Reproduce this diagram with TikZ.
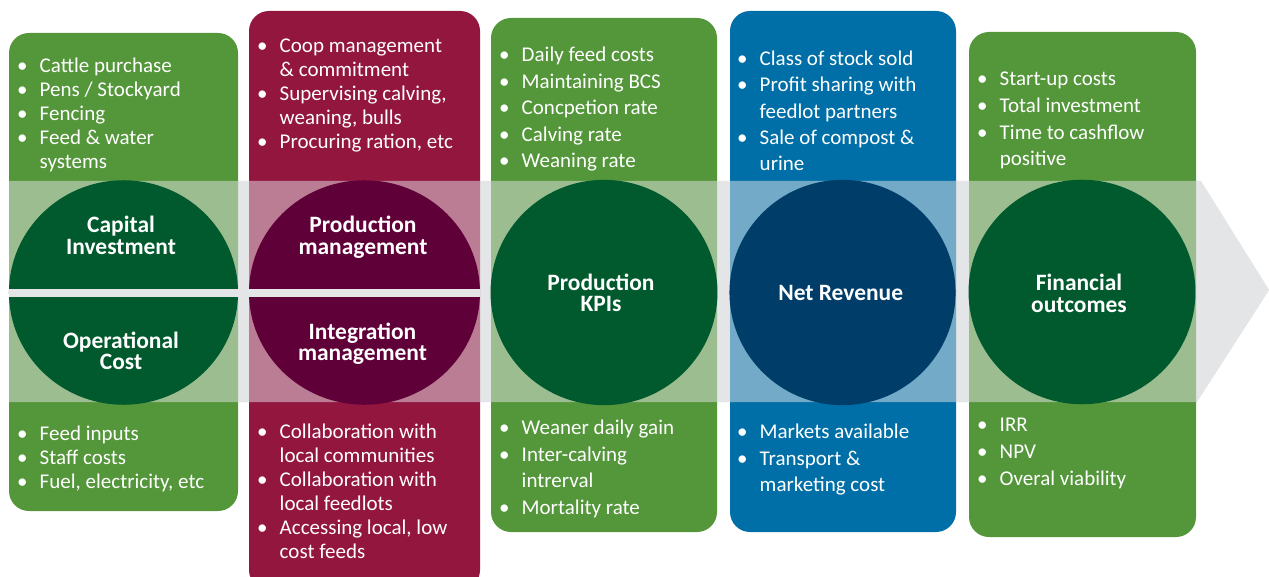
\documentclass[tikz,border=0pt]{standalone}
\usepackage{fontspec}
\setmainfont{Carlito}
\definecolor{boxgreen}{RGB}{84,150,58}
\definecolor{boxred}{RGB}{147,22,63}
\definecolor{boxblue}{RGB}{0,111,167}
\definecolor{dgreen}{RGB}{0,90,46}
\definecolor{dred}{RGB}{95,0,57}
\definecolor{dblue}{RGB}{0,61,105}
\definecolor{bandgray}{RGB}{228,229,231}
\newlength\bgap \setlength\bgap{13.1pt}
\newcommand\bl[1]{\makebox[0pt][c]{\textbullet}\hspace*{\bgap}#1\par}
\newcommand\cl[1]{\hspace*{\bgap}#1\par}
\newcommand\blst[2]{\vtop{\hsize=175pt\parindent=0pt\parskip=0pt\rightskip=0pt plus 1fil\fontsize{15.75pt}{#1}\selectfont #2}}
\newcommand\ttl[1]{\vtop{\hsize=150pt\parindent=0pt\parskip=0pt\centering\fontsize{17.6pt}{16.1pt}\bfseries\selectfont #1\par}}
\tikzset{
  lst/.style={inner sep=0pt, anchor=base west, text=white},
  ttlnode/.style={inner sep=0pt, anchor=base, text=white},
  pillar/.style={rounded corners=15pt},
}
\begin{document}
\begin{tikzpicture}[x=0.75pt,y=-0.75pt]
\useasboundingbox (0,0) rectangle (1269,577);
% band (opaque under layer)
\fill[bandgray] (9,181) -- (1201,181) -- (1269,290) -- (1197,402) -- (9,402) -- cycle;
% pillars
\fill[boxgreen,pillar] (9,33) rectangle (238,511);
\fill[boxred,pillar] (249,11) rectangle (480,590);
\fill[boxgreen,pillar] (491,18) rectangle (717,532);
\fill[boxblue,pillar] (730,11) rectangle (956,532);
\fill[boxgreen,pillar] (969,32) rectangle (1196,537);
% translucent band over pillars
\fill[bandgray,fill opacity=0.5] (9,181) -- (1201,181) -- (1269,290) -- (1197,402) -- (9,402) -- cycle;
% circles
\fill[dgreen] (123.5,292.5) ellipse [x radius=85.9pt, y radius=84.2pt];
\fill[dred] (364.5,292.5) ellipse [x radius=86.6pt, y radius=84.2pt];
\fill[dgreen] (604,292.5) ellipse [x radius=85.1pt, y radius=84.5pt];
\fill[dblue] (842.5,292.5) ellipse [x radius=84.8pt, y radius=84.5pt];
\fill[dgreen] (1082,292) ellipse [x radius=85.1pt, y radius=84.2pt];
% gray separating strip
\fill[bandgray] (9,289) rectangle (480,296.5);
% titles
\node[ttlnode] (t1) at (121,233) {\ttl{Capital\\Investment}};
\node[ttlnode] (t2) at (121,348.5) {\ttl{Operational\\Cost}};
\node[ttlnode] (t3) at (363,233) {\ttl{Production\\management}};
\node[ttlnode] (t4) at (362.5,339.5) {\ttl{Integration\\management}};
\node[ttlnode] (t5) at (601,290.5) {\ttl{Production\\KPIs}};
\node[ttlnode] (t6) at (840.7,300.7) {\ttl{Net Revenue}};
\node[ttlnode] (t7) at (1079,290.7) {\ttl{Financial\\outcomes}};
% lists
\node[lst] (l1a) at (22,72.7) {\blst{18pt}{\bl{Cattle purchase}\bl{Pens / Stockyard}\bl{Fencing}\bl{Feed \& water}\cl{systems}}};
\node[lst] (l1b) at (22,440) {\blst{18pt}{\bl{Feed inputs}\bl{Staff costs}\bl{Fuel, electricity, etc}}};
\node[lst] (l2a) at (262,52.3) {\blst{18pt}{\bl{Coop management}\cl{\& commitment}\bl{Supervising calving,}\cl{weaning, bulls}\bl{Procuring ration, etc}}};
\node[lst] (l2b) at (262,438.7) {\blst{18pt}{\bl{Collaboration with}\cl{local communities}\bl{Collaboration with}\cl{local feedlots}\bl{Accessing local, low}\cl{cost feeds}}};
\node[lst] (l3a) at (504,61.7) {\blst{19.9pt}{\bl{Daily feed costs}\bl{Maintaining BCS}\bl{Concpetion rate}\bl{Calving rate}\bl{Weaning rate}}};
\node[lst] (l3b) at (504,434.3) {\blst{20.1pt}{\bl{Weaner daily gain}\bl{Inter-calving}\cl{intrerval}\bl{Mortality rate}}};
\node[lst] (l4a) at (742,65.3) {\blst{19.8pt}{\bl{Class of stock sold}\bl{Profit sharing with}\cl{feedlot partners}\bl{Sale of compost \&}\cl{urine}}};
\node[lst] (l4b) at (742,438.3) {\blst{20.1pt}{\bl{Markets available}\bl{Transport \&}\cl{marketing cost}}};
\node[lst] (l5a) at (982,85.7) {\blst{20pt}{\bl{Start-up costs}\bl{Total investment}\bl{Time to cashflow}\cl{positive}}};
\node[lst] (l5b) at (982,431.7) {\blst{20.2pt}{\bl{IRR}\bl{NPV}\bl{Overal viability}}};
\end{tikzpicture}
\end{document}
